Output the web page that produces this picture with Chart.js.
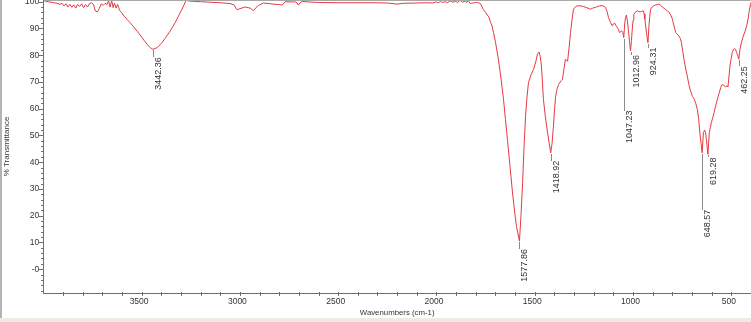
<!DOCTYPE html>
<html><head><meta charset="utf-8">
<style>html,body{margin:0;padding:0;background:#fff;overflow:hidden}canvas{display:block}</style>
</head><body>
<canvas id="c" width="751" height="322"></canvas>
<script src="https://cdn.jsdelivr.net/npm/chart.js@4"></script>
<script>
const wavenumbers = [4000,3990,3975,3960,3945,3930,3915,3905,3895,3885,3875,3865,3855,3845,3835,3825,3815,3805,3795,3785,3775,3765,3755,3745,3735,3725,3715,3705,3695,3685,3675,3668,3660,3652,3645,3638,3630,3622,3612,3600,3589,3574,3559,3543,3523,3508,3487,3467,3455,3442.36,3421,3401,3380,3355,3329,3304,3284,3274,3253,3200,3150,3100,3050,3030,3015,3000,2990,2975,2964,2945,2931,2918,2905,2880,2850,2831,2800,2786,2769,2740,2718,2710,2703,2695,2683,2650,2600,2500,2400,2300,2250,2200,2170,2100,2050,2020,2000,1990,1980,1970,1955,1945,1930,1918,1905,1892,1879,1866,1854,1845,1839,1828,1815,1800,1792,1776,1761,1750,1741,1733,1725,1718,1710,1700,1685,1672,1659,1649,1639,1626,1613,1600,1593,1577.86,1570,1562,1555,1547,1540,1532,1520,1506,1495,1486,1478,1472,1466,1461,1456,1446,1435,1418.92,1412,1405,1399,1394,1386,1379,1370,1365,1359,1350,1344,1339,1333,1325,1318,1310,1303,1290,1282,1265,1252,1230,1216,1205,1191,1170,1157,1148,1140,1132,1125,1115,1106,1100,1094,1087,1080,1074,1069,1063,1058,1052,1047.23,1042,1038,1034,1029,1024,1018,1012.96,1008,1004,1000,996,987,978,970,962,955,948,944,940,932,924.31,919,915,911,903,894,885,877,868,860,851,838,826,818,808,800,792,783,775,767,760,754,748,741,733,724,716,707,698,690,681,673,666,660,654,648.57,642,636,631,627,619.28,612,607,602,595,588,580,571,562,554,546,537,529,522,517,512,507,501,495,489,483,478,473,467,462.25,456,448,439,430,422,415,410,405,400];
const transmittance = [100.4,100.2,100.0,99.8,99.6,99.4,99.0,99.4,98.4,99.2,98.0,99.0,97.9,98.8,97.6,99.0,98.2,99.2,97.8,98.9,98.0,99.3,99.6,99.0,96.5,96.2,97.5,99.2,98.6,99.4,99.0,100.4,98.0,100.4,97.8,99.5,97.6,99.0,96.8,95.8,94.6,93.4,92.2,90.8,89.0,87.6,85.5,83.6,82.8,82.2,82.8,84.3,86.3,89.0,92.2,95.8,98.8,100.5,100.2,100.0,99.8,99.6,99.3,98.8,97.0,97.4,97.6,98.0,97.9,97.5,96.6,97.8,98.6,99.5,99.3,99.1,98.9,98.7,100.0,99.9,99.9,99.6,98.7,99.5,100.1,99.9,99.7,99.6,99.6,99.6,99.5,99.1,99.4,99.5,99.6,99.5,99.9,99.6,100.1,99.7,100.0,99.6,100.3,99.8,100.2,99.7,100.5,99.8,100.3,99.7,100.5,99.3,99.5,99.7,99.7,99.3,97.0,96.0,95.0,94.2,92.2,91.2,88.5,85.0,78.5,71.5,63.5,56.0,48.5,38.5,28.5,20.0,16.0,10.5,20.0,32.0,45.0,57.0,64.0,69.7,72.5,74.7,77.5,80.4,81.2,79.5,76.0,70.0,63.5,57.0,51.0,43.5,47.0,53.4,60.0,64.6,67.5,69.0,70.0,70.5,71.0,75.5,78.5,78.0,77.8,83.0,88.5,93.5,97.2,98.3,98.5,98.4,98.2,97.6,97.2,97.6,97.9,98.4,98.5,98.3,97.9,96.3,94.1,92.3,91.0,91.7,92.0,91.0,90.4,89.5,88.5,88.8,89.1,88.5,86.6,92.2,94.0,95.0,93.0,89.7,85.0,81.6,85.5,89.7,93.0,95.3,96.2,96.6,96.3,96.2,96.4,96.6,95.5,93.5,88.5,84.7,91.0,94.5,97.2,98.0,98.5,98.8,98.9,99.1,98.7,98.0,97.3,96.6,96.2,95.0,93.5,91.0,88.5,87.8,87.2,86.3,84.7,81.8,78.5,75.2,72.2,69.0,66.5,64.6,63.8,62.0,59.7,56.0,51.0,47.0,43.5,51.0,52.0,51.0,48.5,42.9,51.0,53.0,54.7,56.5,58.5,61.0,63.5,65.8,67.9,69.1,68.6,68.2,68.5,68.3,72.0,76.0,78.8,81.0,82.2,82.5,82.0,81.0,79.8,78.5,82.2,85.0,87.2,89.0,91.0,93.5,96.0,98.0,99.7];
const peakPositions = [3442.36, 1577.86, 1418.92, 1047.23, 1012.96, 924.31, 648.57, 619.28, 462.25];
const xTickLabels = [3500, 3000, 2500, 2000, 1500, 1000, 500];
const yTickLabels = [0, 10, 20, 30, 40, 50, 60, 70, 80, 90, 100];

// layout only: gap (px) between peak and the top of its label
const leaderGap = [8, 8, 8, 73, 4, 5, 57, 3, 7];

const FONT = '"Liberation Sans", Arial, sans-serif';

const frame = {
  id: 'frame',
  beforeDraw(chart) {
    const {ctx, width, height} = chart;
    ctx.save();
    ctx.fillStyle = '#ffffff';
    ctx.fillRect(0, 0, width, height);
    ctx.fillStyle = '#ececE2';
    ctx.fillRect(0, 318, width, height - 318);
    ctx.fillStyle = '#b4b4b4';
    ctx.fillRect(0, 0, 2, 318);
    ctx.restore();
  },
  afterDraw(chart) {
    const {ctx, chartArea: a} = chart;
    const xs = chart.scales.x, ys = chart.scales.y;
    ctx.save();
    ctx.fillStyle = '#a8a8a8';
    ctx.fillRect(Math.round(a.left), 0, a.right - a.left, 1);
    ctx.fillStyle = '#707070';
    const bx = Math.round(a.bottom);
    const lx = Math.round(a.left);
    ctx.fillRect(lx, bx, Math.round(a.right) - lx, 1);
    ctx.fillRect(lx, 0, 1, bx + 1);
    for (let v = 500; v <= 3900; v += 100) {
      const px = Math.round(xs.getPixelForValue(v));
      ctx.fillRect(px, bx - 1, 1, 4);
    }
    for (let v = -8; v <= 100; v += 2) {
      const py = Math.round(ys.getPixelForValue(v));
      const len = (v % 10 === 0) ? 4 : 2;
      ctx.fillRect(lx - len, py, len, 1);
    }
    ctx.font = '9px ' + FONT;
    peakPositions.forEach((p, i) => {
      const idx = wavenumbers.indexOf(p);
      const px = Math.round(xs.getPixelForValue(p));
      const py = ys.getPixelForValue(transmittance[idx]);
      const top = py + leaderGap[i];
      ctx.fillStyle = '#8a8a8a';
      ctx.fillRect(px, Math.round(py) + 1, 1, Math.max(1, Math.round(top - py) - 1));
      ctx.save();
      ctx.translate(px + 5.5, top);
      ctx.rotate(-Math.PI / 2);
      ctx.fillStyle = '#333333';
      ctx.textAlign = 'right';
      ctx.textBaseline = 'middle';
      ctx.fillText(p.toFixed(2), 0, 0);
      ctx.restore();
    });
    ctx.restore();
  }
};

new Chart(document.getElementById('c'), {
  type: 'line',
  data: {
    datasets: [{
      data: wavenumbers.map((w, i) => ({x: w, y: transmittance[i]})),
      borderColor: 'rgb(228,58,68)',
      borderWidth: 1,
      pointRadius: 0,
      tension: 0,
      fill: false
    }]
  },
  options: {
    responsive: false,
    animation: false,
    devicePixelRatio: 1,
    layout: {padding: 0},
    plugins: {legend: {display: false}, tooltip: {enabled: false}},
    scales: {
      x: {
        type: 'linear', reverse: true, min: 400, max: 4000,
        grid: {display: false, drawTicks: false},
        border: {display: false},
        afterBuildTicks(s) { s.ticks = xTickLabels.map(v => ({value: v})); },
        afterFit(s) { s.height = 29; s.paddingLeft = 0; s.paddingRight = 0; },
        ticks: {
          autoSkip: false, maxRotation: 0, padding: 4, labelOffset: -2.5,
          color: '#333', font: {family: FONT, size: 8.5},
          callback: v => String(v)
        },
        title: {display: true, text: 'Wavenumbers (cm-1)', color: '#333',
          font: {family: FONT, size: 7.8}, padding: {top: 0, bottom: 4.2}}
      },
      y: {
        min: -8.9, max: 100.63,
        grid: {display: false, drawTicks: false},
        border: {display: false},
        afterBuildTicks(s) { s.ticks = yTickLabels.map(v => ({value: v})); },
        afterFit(s) { s.width = 43.3; s.paddingTop = 0; s.paddingBottom = 0; },
        ticks: {
          autoSkip: false, padding: 4, color: '#333',
          font: {family: FONT, size: 8.5},
          callback: v => (v === 0 ? '-0' : String(v))
        },
        title: {display: true, text: '% Transmittance', color: '#333',
          font: {family: FONT, size: 8}, padding: {top: 2, bottom: 0}}
      }
    }
  },
  plugins: [frame]
});
</script>
</body></html>
